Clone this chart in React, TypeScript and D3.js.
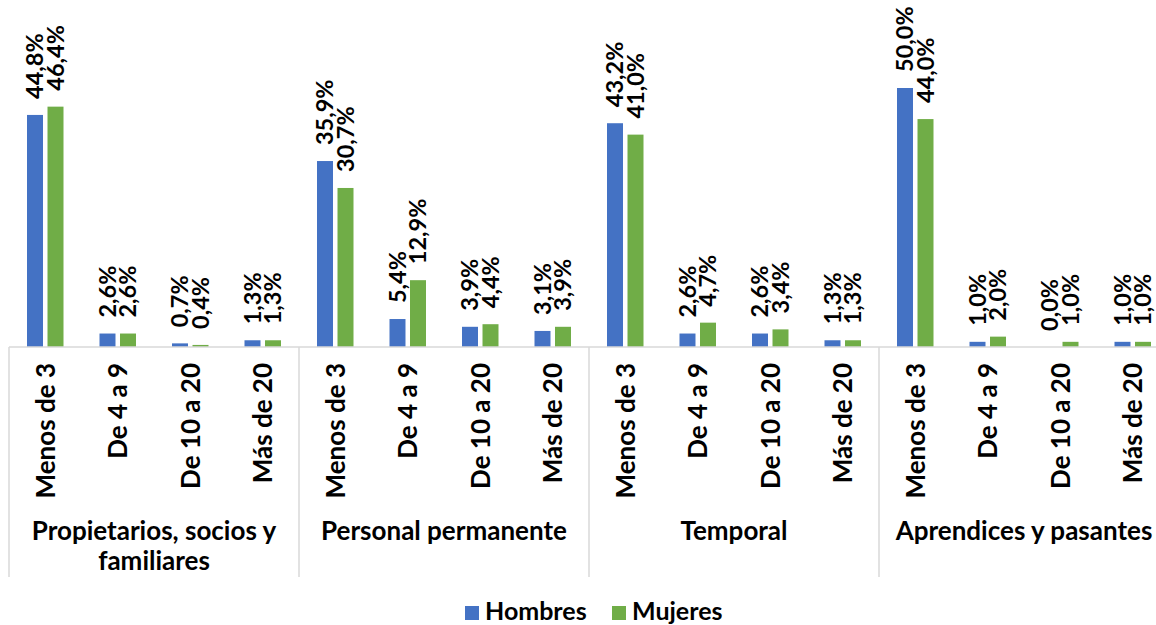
import React from "react";
import * as d3 from "d3";

const groups = [
  ["Propietarios, socios y", "familiares"],
  ["Personal permanente"],
  ["Temporal"],
  ["Aprendices y pasantes"],
];
const categories = ["Menos de 3", "De 4 a 9", "De 10 a 20", "Más de 20"];
const seriesNames = ["Hombres", "Mujeres"];
const hombres = [44.8, 2.6, 0.7, 1.3, 35.9, 5.4, 3.9, 3.1, 43.2, 2.6, 2.6, 1.3, 50.0, 1.0, 0.0, 1.0];
const mujeres = [46.4, 2.6, 0.4, 1.3, 30.7, 12.9, 4.4, 3.9, 41.0, 4.7, 3.4, 1.3, 44.0, 2.0, 1.0, 1.0];
const colors = ["#4472C4", "#70AD47"];

const W = 1156;
const H = 625;
const FONT = "Lato, 'Open Sans', sans-serif";

export default function App() {
  const groupKeys = groups.map((g) => g.join(" "));
  const x0 = d3.scaleBand<string>().domain(groupKeys).range([9, 9 + 290 * 4]);
  const x1 = d3.scaleBand<string>().domain(categories).range([0, x0.bandwidth()]);
  const xs = d3.scaleBand<string>().domain(seriesNames).range([-18.25, 18.25]).paddingInner(0.22);
  const y = d3.scaleLinear().domain([0, 50]).range([347, 88]);
  const fmt = (v: number) => v.toFixed(1).replace(".", ",") + "%";
  const seriesData = [hombres, mujeres];
  const axisY = y(0);

  const items: { cx: number; gi: number; ci: number; idx: number }[] = [];
  groupKeys.forEach((g, gi) =>
    categories.forEach((c, ci) => {
      items.push({ cx: (x0(g) as number) + (x1(c) as number) + x1.bandwidth() / 2, gi, ci, idx: gi * 4 + ci });
    })
  );

  return (
    <div style={{ position: "absolute", left: 0, top: 0 }}>
      <svg width={W} height={H} style={{ display: "block", background: "#fff" }}>
        {items.map((it) =>
          seriesNames.map((s, si) => {
            const v = seriesData[si][it.idx];
            const bx = it.cx + (xs(s) as number);
            return (
              <rect
                key={`b${it.idx}-${si}`}
                x={bx}
                y={y(v)}
                width={xs.bandwidth()}
                height={axisY - y(v)}
                fill={colors[si]}
              />
            );
          })
        )}
        {items.map((it) =>
          seriesNames.map((s, si) => {
            const v = seriesData[si][it.idx];
            const lx = it.cx + (xs(s) as number) + xs.bandwidth() / 2;
            const ly = y(v) - 16;
            return (
              <text
                key={`l${it.idx}-${si}`}
                transform={`translate(${lx},${ly}) rotate(-90)`}
                dy="0.36em"
                textAnchor="start"
                fontFamily={FONT}
                fontWeight="bold"
                fontSize={23.5}
                fill="#000"
              >
                {fmt(v)}
              </text>
            );
          })
        )}
        <line x1={9} x2={W} y1={axisY} y2={axisY} stroke="#d9d9d9" strokeWidth={1.5} />
        {groupKeys.map((g) => (
          <line
            key={`s${g}`}
            x1={x0(g) as number}
            x2={x0(g) as number}
            y1={axisY}
            y2={577}
            stroke="#d9d9d9"
            strokeWidth={1.5}
          />
        ))}
        {items.map((it) => (
          <text
            key={`c${it.idx}`}
            transform={`translate(${it.cx},363) rotate(-90)`}
            dy="0.36em"
            textAnchor="end"
            fontFamily={FONT}
            fontWeight="bold"
            fontSize={26}
            fill="#000"
          >
            {categories[it.ci]}
          </text>
        ))}
        {groups.map((g, gi) => (
          <text
            key={`g${gi}`}
            x={(x0(groupKeys[gi]) as number) + x0.bandwidth() / 2}
            y={540}
            textAnchor="middle"
            fontFamily={FONT}
            fontWeight="bold"
            fontSize={26}
            fill="#000"
          >
            {g.map((line, li) => (
              <tspan key={li} x={(x0(groupKeys[gi]) as number) + x0.bandwidth() / 2} dy={li === 0 ? 0 : 30}>
                {line}
              </tspan>
            ))}
          </text>
        ))}
        {seriesNames.map((s, si) => {
          const lx = [465, 612][si];
          return (
            <g key={`lg${s}`}>
              <rect x={lx} y={606} width={14} height={14} fill={colors[si]} />
              <text x={lx + 20} y={620} fontFamily={FONT} fontWeight="bold" fontSize={25} fill="#000">
                {s}
              </text>
            </g>
          );
        })}
      </svg>
    </div>
  );
}
